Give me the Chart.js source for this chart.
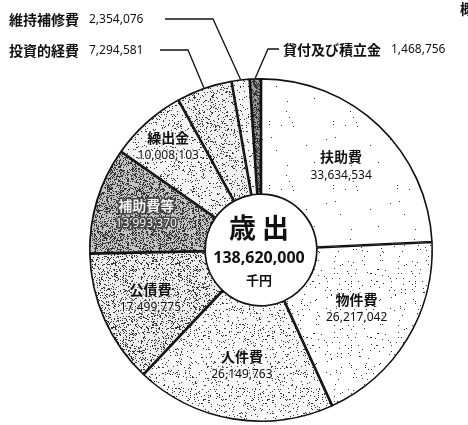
<!DOCTYPE html>
<html lang="ja">
<head>
<meta charset="UTF-8">
<title>歳出</title>
<script src="https://cdn.jsdelivr.net/npm/chart.js"></script>
<style>
  html, body { margin: 0; padding: 0; background: #fff; }
  #wrap { width: 468px; height: 425px; position: relative; }
</style>
</head>
<body>
<div id="wrap"><canvas id="chart"></canvas></div>
<script>
// data
const categories = ['扶助費', '物件費', '人件費', '公債費', '補助費等', '繰出金', '投資的経費', '維持補修費', '貸付及び積立金'];
const amounts = [33634534, 26217042, 26149763, 17499775, 13993370, 10008103, 7294581, 2354076, 1468756];
const centerTitle = '歳出';
const totalLabel = '138,620,000';
const unitLabel = '千円';

// look of each slice: base tone + dot density (scan halftone)
const tones = [
  ['#ffffff', 0.004], ['#ffffff', 0.025], ['#f8f8f8', 0.08],
  ['#ededed', 0.2], ['#c4c4c4', 0.38], ['#f4f4f4', 0.1],
  ['#f0f0f0', 0.14], ['#f6f6f6', 0.07], ['#9a9a9a', 0.45]
];
// radius of the label inside a slice (null = callout outside)
const labelRadius = [116, 112, 117, 121, 120, 139, null, null, null];
// callouts: elbow x/y, end of the horizontal, text start
const callouts = [null, null, null, null, null, null,
  { ex: 188, y: 50, hx: 160, tx: 9 },
  { ex: 213, y: 19, hx: 165, tx: 9 },
  { ex: 268, y: 49, hx: 279, tx: 283 }
];

const fmt = n => n.toLocaleString('en-US');
const jp = '"Noto Sans CJK JP", "Noto Sans", sans-serif';
const num = '"Noto Sans", "DejaVu Sans", sans-serif';

function hash(x, y, s) {
  let h = (x * 374761393 + y * 668265263 + s * 982451653) | 0;
  h = Math.imul(h ^ (h >>> 13), 1274126177);
  h = h ^ (h >>> 16);
  return (h >>> 0) / 4294967296;
}

function stipple(base, density, seed) {
  const c = document.createElement('canvas');
  c.width = c.height = 64;
  const g = c.getContext('2d');
  g.fillStyle = base;
  g.fillRect(0, 0, 64, 64);
  g.fillStyle = '#333';
  for (let y = 0; y < 64; y++) {
    for (let x = 0; x < 64; x++) {
      if (hash(x, y, seed) < density) g.fillRect(x, y, 1, 1);
    }
  }
  return g.createPattern(c, 'repeat');
}

const labelPlugin = {
  id: 'labels',
  afterDatasetsDraw(chart) {
    const ctx = chart.ctx;
    const arcs = chart.getDatasetMeta(0).data;
    ctx.save();
    ctx.textAlign = 'center';
    ctx.textBaseline = 'middle';
    arcs.forEach((arc, i) => {
      const mid = (arc.startAngle + arc.endAngle) / 2;
      if (labelRadius[i]) {
        const x = arc.x + Math.cos(mid) * labelRadius[i];
        const y = arc.y + Math.sin(mid) * labelRadius[i];
        const dark = i === 4;
        ctx.lineWidth = 3;
        ctx.strokeStyle = dark ? '#444' : 'rgba(255,255,255,0.6)';
        ctx.fillStyle = dark ? '#f4f4f4' : '#111';
        ctx.font = 'bold 14px ' + jp;
        ctx.strokeText(categories[i], x, y - 9);
        ctx.fillText(categories[i], x, y - 9);
        ctx.font = '12px ' + num;
        ctx.strokeText(fmt(amounts[i]), x, y + 9);
        ctx.fillText(fmt(amounts[i]), x, y + 9);
      } else if (callouts[i]) {
        const c = callouts[i];
        const r = arc.outerRadius;
        const px = arc.x + Math.cos(mid) * r;
        const py = arc.y + Math.sin(mid) * r;
        ctx.strokeStyle = '#111';
        ctx.lineWidth = 1.3;
        ctx.beginPath();
        ctx.moveTo(px, py);
        ctx.lineTo(c.ex, c.y);
        ctx.lineTo(c.hx, c.y);
        ctx.stroke();
        ctx.textAlign = 'left';
        ctx.fillStyle = '#111';
        ctx.font = 'bold 14px ' + jp;
        ctx.fillText(categories[i], c.tx, c.y + 1);
        const w = ctx.measureText(categories[i]).width;
        ctx.font = '12px ' + num;
        ctx.fillText(fmt(amounts[i]), c.tx + w + 10, c.y + 1);
        ctx.textAlign = 'center';
      }
    });
    // centre text
    const cx = arcs[0].x, cy = arcs[0].y;
    ctx.fillStyle = '#111';
    ctx.font = 'bold 27px ' + jp;
    ctx.fillText(centerTitle.split('').join(' '), cx - 2, cy - 22);
    ctx.font = 'bold 16px ' + num;
    ctx.fillText(totalLabel, cx - 2, cy + 8);
    ctx.font = 'bold 13px ' + jp;
    ctx.fillText(unitLabel, cx - 2, cy + 30);
    // clipped character at the top-right corner of the scan
    ctx.textAlign = 'left';
    ctx.font = 'bold 14px ' + jp;
    ctx.fillText('概', 460, 9);
    ctx.restore();
  }
};

new Chart(document.getElementById('chart'), {
  type: 'doughnut',
  data: {
    labels: categories,
    datasets: [{
      data: amounts,
      backgroundColor: tones.map((t, i) => stipple(t[0], t[1], i + 1)),
      borderColor: '#111',
      borderWidth: 1.3,
      borderAlign: 'inner'
    }]
  },
  options: {
    responsive: true,
    maintainAspectRatio: false,
    animation: false,
    radius: 172,
    cutout: 56,
    layout: { padding: { left: 54, right: 0, top: 75, bottom: 0 } },
    plugins: { legend: { display: false }, tooltip: { enabled: false } }
  },
  plugins: [labelPlugin]
});
</script>
</body>
</html>
